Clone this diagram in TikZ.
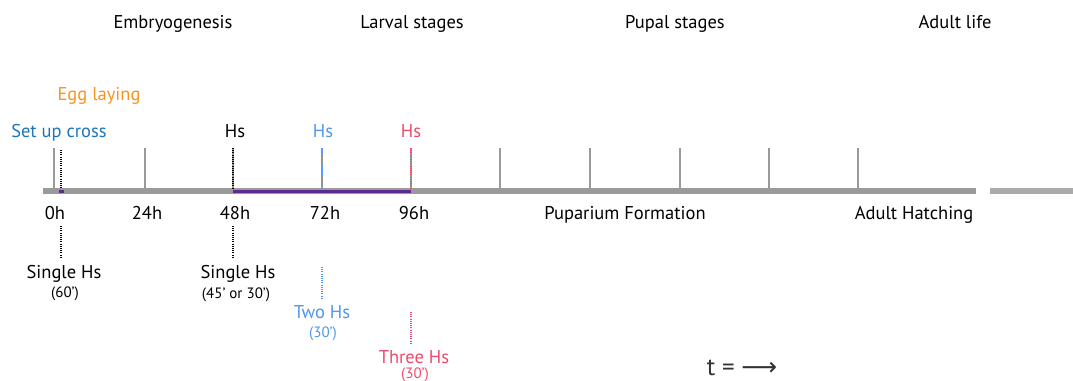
\documentclass[tikz,border=0pt]{standalone}
\usepackage{fontspec}
\setmainfont{PT Sans}
\newfontfamily\symfont{DejaVu Sans}
\definecolor{axisgray}{HTML}{9A9A9A}
\definecolor{axisgray2}{HTML}{ABABAB}
\definecolor{eggorange}{HTML}{F7941D}
\definecolor{crossblue}{HTML}{1C75BC}
\definecolor{hsblue}{HTML}{4F96EE}
\definecolor{hsred}{HTML}{EE4B6C}
\definecolor{barpurple}{HTML}{5B2C8F}
\begin{document}
\begin{tikzpicture}[x=1pt,y=-1pt,
  lbl/.style={font=\fontsize{18.5}{21}\selectfont, inner sep=0pt, anchor=base},
  small/.style={font=\fontsize{15}{17}\selectfont, inner sep=0pt, anchor=base},
  tick/.style={draw=axisgray, line width=2.6pt},
  dots/.style={line width=1.6pt, dash pattern=on 1pt off 1.2pt},
]
\useasboundingbox (0,0) rectangle (1073,380);
% axis
\coordinate (a0) at (43,191);
\coordinate (a1) at (976,191);
\coordinate (b0) at (990,191);
\coordinate (b1) at (1073,191);
\draw[axisgray, line width=6pt] (a0) -- (a1);
\draw[axisgray2, line width=6pt] (b0) -- (b1);
% ticks
\foreach \n/\x in {t0/54,t1/145,t2/233,t3/322,t4/411,t5/500,t6/590,t7/680,t8/769,t9/858}{
  \coordinate (\n top) at (\x,148);
  \coordinate (\n bot) at (\x,189);
  \draw[tick] (\n top) -- (\n bot);
}
% purple bars
\coordinate (p0) at (233,191);
\coordinate (p1) at (411,191);
\draw[barpurple, line width=3pt] (p0) -- (p1);
\coordinate (q0) at (59,191);
\coordinate (q1) at (64,191);
\draw[barpurple, line width=3pt] (q0) -- (q1);
% dotted markers on axis
\coordinate (e0) at (61,150);
\coordinate (e1) at (61,188);
\draw[dots, black] (e0) -- (e1);
\draw[dots, black] (t2top) -- (t2bot);
\draw[dots, hsblue] (t3top) -- (t3bot);
\draw[dots, hsred] (t4top) -- (t4bot);
% stage titles
\node[lbl] (emb) at (173,28) {Embryogenesis};
\node[lbl] (lar) at (412,28) {Larval stages};
\node[lbl] (pup) at (675,28) {Pupal stages};
\node[lbl] (adl) at (955,28) {Adult life};
% upper labels
\node[lbl, text=eggorange] (egg) at (99,100) {Egg laying};
\node[lbl, text=crossblue] (cross) at (59,137) {Set up cross};
\node[lbl] (hs1) at (235,137) {Hs};
\node[lbl, text=hsblue] (hs2) at (323,137) {Hs};
\node[lbl, text=hsred] (hs3) at (411,137) {Hs};
% time labels
\node[lbl] (h0) at (55,219) {0h};
\node[lbl] (h24) at (147,219) {24h};
\node[lbl] (h48) at (235,219) {48h};
\node[lbl] (h72) at (325,219) {72h};
\node[lbl] (h96) at (414,219) {96h};
\node[lbl] (puf) at (625,219) {Puparium Formation};
\node[lbl] (ahat) at (914,219) {Adult Hatching};
% lower dotted lines and labels
\coordinate (d1a) at (61,226); \coordinate (d1b) at (61,258);
\draw[dots, black] (d1a) -- (d1b);
\node[lbl] (s1) at (64,278) {Single Hs};
\node[small] (s1t) at (65,297) {(60')};
\coordinate (d2a) at (233,226); \coordinate (d2b) at (233,258);
\draw[dots, black] (d2a) -- (d2b);
\node[lbl] (s2) at (238,278) {Single Hs};
\node[small] (s2t) at (236,298) {(45' or 30')};
\coordinate (d3a) at (322,267); \coordinate (d3b) at (322,298);
\draw[dots, hsblue] (d3a) -- (d3b);
\node[lbl, text=hsblue] (s3) at (322,318) {Two Hs};
\node[small, text=hsblue] (s3t) at (323,337) {(30')};
\coordinate (d4a) at (411,312); \coordinate (d4b) at (411,343);
\draw[dots, hsred] (d4a) -- (d4b);
\node[lbl, text=hsred] (s4) at (414,363) {Three Hs};
\node[small, text=hsred] (s4t) at (415,378) {(30')};
% time arrow
\node[font=\fontsize{25}{27}\selectfont, text=black!80, inner sep=0pt, anchor=base] (tt) at (742,375) {t = {\symfont ⟶}};
\end{tikzpicture}
\end{document}
